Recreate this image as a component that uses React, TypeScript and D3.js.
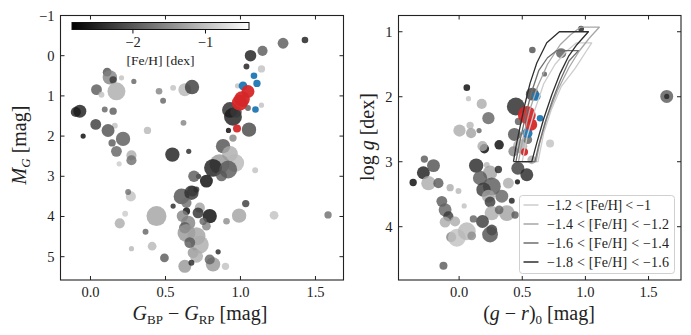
import React from 'react';
import * as d3 from 'd3';

// ---- left panel: Gaia CMD (BP-RP, M_G, [Fe/H], marker size) ----
const cmdBpRp = [1.284, 1.43, 1.147, 1.067, 1.04, 1.14, 0.98, 1.14, 0.93, 0.95, 0.97, 1.05, 1.057, 0.92, 0.95, 0.884, 0.93, 0.965, 0.86, 0.817, 0.918, 0.874, 0.773, 0.72, 0.69, 1.098, 0.546, 0.655, 0.68, 0.607, 0.673, 0.706, 0.551, 0.64, 0.64, 0.729, 0.795, 0.717, 0.773, 0.651, 0.613, 0.751, 0.629, 0.64, 0.707, 0.729, 0.662, 0.684, 0.707, 0.629, 0.673, 0.817, 0.795, 0.851, 0.9, 0.907, 0.991, 1.035, 1.224, 1.584, 0.493, 0.411, 0.44, 0.367, 0.269, 0.251, 0.195, 0.231, 0.273, 0.38, 0.62, 0.629, 0.677, 0.551, 0.457, 0.484, 0.111, 0.129, 0.151, 0.207, 0.289, 0.04, 0.173, 0.073, -0.071, -0.098, 0.095, 0.151, 0.035, 0.162, 0.117, 0.217, 0.144, 0.173, -0.049, 0.273, 0.273, 0.191];
const cmdMg = [-0.31, -0.39, -0.12, 0.0, 0.27, 0.33, 0.75, 1.23, 1.35, 1.52, 1.4, 1.3, 1.84, 1.86, 2.05, 2.25, 2.44, 2.67, 2.7, 2.79, 2.83, 2.99, 3.12, 3.0, 3.0, 2.85, 2.46, 2.38, 3.37, 3.5, 3.41, 3.33, 3.74, 3.66, 3.87, 3.78, 3.99, 3.91, 4.24, 4.16, 3.99, 4.12, 4.28, 4.41, 4.49, 4.7, 4.65, 4.9, 4.99, 5.24, 5.15, 5.19, 5.07, 4.88, 5.24, 4.12, 3.98, 3.68, 3.97, 3.96, 5.03, 4.74, 3.99, 4.38, 3.5, 3.39, 4.17, 3.93, 4.8, 1.86, 1.67, 0.845, 0.78, 0.8, 0.886, 1.12, 0.41, 0.54, 0.6, 0.55, 0.64, 0.845, 0.886, 0.97, 1.38, 1.4, 1.34, 1.38, 1.71, 1.74, 1.86, 2.07, 2.17, 2.38, 2.0, 2.48, 2.6, 2.69];
const cmdFeh = [-2.0, -2.6, -2.0, -2.6, -2.6, -1.0, -1.0, -1.0, -2.5, -2.6, -2.3, -2.0, -2.2, -2.8, -1.6, -2.1, -1.2, -1.1, -1.4, -2.6, -2.0, -2.0, -2.8, -2.5, -2.0, -1.0, -2.6, -2.5, -2.0, -2.1, -2.4, -2.4, -2.5, -1.8, -2.8, -1.3, -2.8, -2.4, -1.6, -1.6, -1.6, -1.9, -2.0, -1.4, -1.3, -1.2, -2.0, -1.4, -1.2, -1.4, -2.5, -1.4, -1.9, -2.5, -1.0, -1.5, -1.3, -2.3, -1.0, -1.8, -2.0, -1.1, -1.3, -1.9, -1.0, -1.8, -1.2, -0.9, -1.1, -1.1, -1.6, -1.1, -2.3, -1.0, -1.6, -1.9, -2.1, -1.6, -2.3, -1.0, -1.9, -2.0, -1.2, -1.0, -2.6, -2.6, -1.9, -2.0, -2.3, -1.0, -2.1, -2.0, -2.0, -1.9, -2.8, -1.2, -1.8, -0.9];
const cmdSize = [15, 9, 14, 16, 8, 10, 7, 7, 22, 25, 16, 8, 20, 7, 10, 20, 22, 25, 28, 25, 25, 15, 18, 7, 16, 8, 20, 7, 15, 22, 20, 8, 7, 14, 10, 14, 20, 15, 12, 20, 16, 10, 16, 25, 25, 25, 15, 15, 18, 18, 8, 20, 14, 7, 10, 9, 20, 10, 12, 10, 12, 12, 28, 8, 14, 8, 14, 8, 7, 10, 8, 18, 20, 8, 9, 8, 12, 20, 10, 7, 7, 15, 25, 8, 18, 14, 8, 10, 15, 8, 18, 20, 10, 15, 7, 14, 14, 7];

// highlighted members in the CMD
const cmdBlueBpRp = [1.09, 1.11, 1.017, 1.1];
const cmdBlueMg = [0.5, 0.69, 0.75, 1.34];
const cmdBlueSize = [9, 10, 12, 9];
const cmdRedBpRp = [1.05, 1.01, 0.995, 0.977];
const cmdRedMg = [0.89, 1.08, 1.17, 1.81];
const cmdRedSize = [18, 22, 22, 11];

// ---- right panel: (g-r)_0 vs log g ----
const kielGr = [1.644, 1.644, 0.966, 0.808, 0.58, 0.676, 0.58, 0.449, 0.438, 0.483, 0.43, 0.72, 0.575, 0.465, 0.536, 0.462, 0.47, 0.544, 0.061, 0.074, 0.179, 0.232, 0.087, 0.003, 0.095, 0.158, 0.2, 0.185, 0.317, 0.135, 0.219, 0.245, 0.311, 0.166, 0.259, 0.193, 0.39, 0.338, 0.232, 0.245, 0.259, 0.378, 0.317, 0.185, 0.259, 0.245, 0.417, 0.443, -0.275, -0.283, -0.364, -0.203, -0.243, -0.164, -0.071, -0.005, -0.137, -0.111, -0.085, -0.111, -0.032, -0.063, -0.018, 0.061, 0.1, -0.124, 0.04, 0.113, 1.045];
const kielLogg = [1.995, 1.995, 0.954, 1.33, 1.28, 1.65, 1.96, 2.15, 2.58, 2.76, 2.84, 2.72, 2.97, 3.1, 3.2, 3.31, 2.38, 2.66, 1.86, 2.03, 2.11, 2.33, 2.44, 2.52, 2.56, 2.52, 2.8, 2.76, 2.74, 3.06, 3.05, 3.17, 3.12, 3.25, 3.38, 3.43, 3.33, 3.53, 3.53, 3.62, 3.79, 3.79, 3.74, 3.92, 4.05, 4.12, 3.6, 3.82, 2.96, 3.17, 3.32, 3.06, 3.33, 3.33, 3.4, 3.45, 3.61, 3.74, 3.84, 3.93, 3.92, 4.16, 4.17, 4.07, 4.14, 4.6, 3.68, 3.88, 3.95];
const kielFeh = [-2.0, -2.5, -2.6, -2.0, -2.1, -2.0, -2.3, -2.5, -2.1, -1.2, -1.6, -1.0, -1.2, -2.3, -2.5, -2.8, -2.0, -1.9, -2.8, -1.0, -1.2, -1.9, -1.1, -1.2, -1.3, -1.9, -2.8, -1.2, -2.8, -2.5, -1.1, -1.3, -2.5, -2.0, -2.0, -2.3, -1.2, -1.9, -1.3, -2.3, -1.2, -1.3, -1.9, -2.3, -2.3, -2.1, -2.6, -2.0, -2.0, -2.6, -2.8, -2.1, -1.2, -2.0, -1.2, -1.1, -2.0, -1.9, -2.3, -1.2, -1.2, -1.6, -1.0, -1.1, -1.5, -2.0, -1.0, -1.9, -1.0];
const kielSize = [18, 7, 8, 14, 9, 7, 18, 25, 18, 20, 14, 11, 12, 18, 18, 7, 10, 12, 9, 7, 14, 17, 10, 17, 14, 7, 13, 14, 13, 20, 8, 20, 10, 20, 25, 20, 15, 18, 18, 15, 20, 22, 12, 18, 15, 22, 8, 10, 10, 18, 10, 18, 20, 14, 10, 8, 15, 18, 14, 15, 14, 14, 25, 25, 12, 11, 7, 10, 12];

const kielBlueGr = [0.61, 0.641, 0.541];
const kielBlueLogg = [1.995, 2.33, 2.56];
const kielBlueSize = [12, 9, 14];
const kielRedGr = [0.536, 0.57, 0.517];
const kielRedLogg = [2.28, 2.43, 2.85];
const kielRedSize = [25, 17, 10];

// isochrone selection boxes, one per metallicity bin: [(g-r)_0, log g]
const isoLabels = ['−1.2 < [Fe/H] < −1', '−1.4 < [Fe/H] < −1.2', '−1.6 < [Fe/H] < −1.4', '−1.8 < [Fe/H] < −1.6'];
const isoColors = ['#cccccc', '#a6a6a6', '#6e6e6e', '#2e2e2e'];
const isoBoxes: [number, number][][] = [
  [[0.5, 3.0], [0.54, 2.6], [0.6, 2.2], [0.67, 1.8], [0.76, 1.5], [0.85, 1.3], [0.93, 1.17], [1.05, 1.17], [0.99, 1.35], [0.92, 1.56], [0.81, 1.84], [0.73, 2.2], [0.67, 2.56], [0.625, 3.0]],
  [[0.47, 3.0], [0.51, 2.6], [0.56, 2.2], [0.62, 1.85], [0.7, 1.5], [0.8, 1.2], [0.88, 1.05], [0.96, 0.93], [1.11, 0.93], [1.03, 1.1], [0.95, 1.3], [0.87, 1.55], [0.78, 1.9], [0.7, 2.3], [0.64, 2.7], [0.61, 3.0]],
  [[0.45, 3.0], [0.48, 2.7], [0.52, 2.35], [0.57, 1.95], [0.63, 1.6], [0.7, 1.4], [0.773, 1.29], [0.945, 1.29], [0.87, 1.45], [0.8, 1.75], [0.74, 2.05], [0.68, 2.4], [0.63, 2.75], [0.6, 3.0]],
  [[0.43, 3.0], [0.451, 2.76], [0.483, 2.46], [0.523, 2.1], [0.562, 1.79], [0.615, 1.48], [0.694, 1.17], [0.794, 1.0], [1.024, 1.0], [0.932, 1.2], [0.866, 1.38], [0.8, 1.64], [0.734, 1.97], [0.668, 2.35], [0.615, 2.71], [0.575, 3.0]],
];

const colorTicks = [0, 0.5, 1.0, 1.5];
const mgTicks = [-1, 0, 1, 2, 3, 4, 5];
const loggTicks = [1, 2, 3, 4];
const fehTicks = [-2, -1];

const FONT = '"Liberation Serif", "DejaVu Serif", serif';
const RED = '#d62728';
const BLUE = '#1f77b4';
const fmt = (v: number, d: number) => v.toFixed(d).replace('-', '−');

const fehScale = d3.scaleLinear().domain([-2.84, -0.4]).range(['#000000', '#ffffff']).clamp(true);
const rScale = d3.scaleLinear().domain([7, 28]).range([2.6, 10]);

function Frame({ x, y, xt, yt, xd, yd }: any) {
  const [x0, x1] = x.range();
  const [y0, y1] = y.range();
  const tl = 4;
  return (
    <g stroke="#222" fill="none">
      {xt.map((t: number) => (
        <g key={'x' + t}>
          <line x1={x(t)} x2={x(t)} y1={y1} y2={y1 - tl} />
          <line x1={x(t)} x2={x(t)} y1={y0} y2={y0 + tl} />
          <text x={x(t)} y={y1 + 17} textAnchor="middle" stroke="none" fill="#222" fontSize={14.5} fontFamily={FONT}>{fmt(t, xd)}</text>
        </g>
      ))}
      {yt.map((t: number) => (
        <g key={'y' + t}>
          <line x1={x0} x2={x0 + tl} y1={y(t)} y2={y(t)} />
          <line x1={x1} x2={x1 - tl} y1={y(t)} y2={y(t)} />
          <text x={x0 - 6} y={y(t) + 5} textAnchor="end" stroke="none" fill="#222" fontSize={14.5} fontFamily={FONT}>{fmt(t, yd)}</text>
        </g>
      ))}
      <rect x={x0} y={y0} width={x1 - x0} height={y1 - y0} strokeWidth={1.1} />
    </g>
  );
}

function Dots({ xs, ys, fs, ss, x, y, color, opacity }: any) {
  return (
    <g>
      {xs.map((v: number, i: number) => (
        <circle key={i} cx={x(v)} cy={y(ys[i])} r={rScale(ss[i])}
          fill={color ? color : fehScale(fs[i])} fillOpacity={opacity} />
      ))}
    </g>
  );
}

export default function App() {
  const xL = d3.scaleLinear().domain([-0.2, 1.687]).range([60.5, 343.5]);
  const yL = d3.scaleLinear().domain([-1, 5.58]).range([15.5, 280]);
  const xR = d3.scaleLinear().domain([-0.48, 1.757]).range([398.5, 681]);
  const yR = d3.scaleLinear().domain([0.75, 4.82]).range([15.5, 280]);
  const cb = d3.scaleLinear().domain([-2.84, -0.4]).range([72, 249]);
  const line = d3.line<[number, number]>().x(d => xR(d[0])).y(d => yR(d[1]));
  const gradStops = d3.range(0, 1.01, 0.1);

  return (
    <svg width={691} height={335} style={{ position: 'absolute', left: 0, top: 0, background: '#fff' }}>
      <defs>
        <linearGradient id="cbar" x1="0" x2="1" y1="0" y2="0">
          {gradStops.map(s => (
            <stop key={s} offset={s} stopColor={fehScale(cb.invert(72 + s * 177)) as string} />
          ))}
        </linearGradient>
        <clipPath id="clipL"><rect x={60.5} y={15.5} width={283} height={264.5} /></clipPath>
        <clipPath id="clipR"><rect x={398.5} y={15.5} width={282.5} height={264.5} /></clipPath>
      </defs>

      {/* left panel */}
      <g clipPath="url(#clipL)">
        <Dots xs={cmdBpRp} ys={cmdMg} fs={cmdFeh} ss={cmdSize} x={xL} y={yL} opacity={0.8} />
        <Dots xs={cmdBlueBpRp} ys={cmdBlueMg} ss={cmdBlueSize} x={xL} y={yL} color={BLUE} opacity={0.95} />
        <Dots xs={cmdRedBpRp} ys={cmdRedMg} ss={cmdRedSize} x={xL} y={yL} color={RED} opacity={0.95} />
      </g>
      <Frame x={xL} y={yL} xt={colorTicks} yt={mgTicks} xd={1} yd={0} />

      {/* colorbar */}
      <rect x={72} y={22.5} width={177} height={7} fill="url(#cbar)" stroke="#111" strokeWidth={1} />
      {fehTicks.map(t => (
        <g key={t}>
          <line x1={cb(t)} x2={cb(t)} y1={29.5} y2={33.5} stroke="#111" />
          <text x={cb(t)} y={47} textAnchor="middle" fontSize={14.5} fontFamily={FONT} fill="#222">{fmt(t, 0)}</text>
        </g>
      ))}
      <text x={160.5} y={65} textAnchor="middle" fontSize={13.5} fontFamily={FONT} fill="#222">[Fe/H] [dex]</text>

      <text x={200} y={320} textAnchor="middle" fontSize={20} fontFamily={FONT} fill="#222">
        <tspan fontStyle="italic">G</tspan><tspan fontSize={13} dy={4}>BP</tspan>
        <tspan dy={-4}> − </tspan><tspan fontStyle="italic">G</tspan><tspan fontSize={13} dy={4}>RP</tspan>
        <tspan dy={-4}> [mag]</tspan>
      </text>
      <text transform="translate(26,145) rotate(-90)" textAnchor="middle" fontSize={20} fontFamily={FONT} fill="#222">
        <tspan fontStyle="italic">M</tspan><tspan fontSize={13} fontStyle="italic" dy={4}>G</tspan>
        <tspan dy={-4}> [mag]</tspan>
      </text>

      {/* right panel */}
      <g clipPath="url(#clipR)">
        <Dots xs={kielGr} ys={kielLogg} fs={kielFeh} ss={kielSize} x={xR} y={yR} opacity={0.8} />
        <Dots xs={kielBlueGr} ys={kielBlueLogg} ss={kielBlueSize} x={xR} y={yR} color={BLUE} opacity={0.95} />
        <Dots xs={kielRedGr} ys={kielRedLogg} ss={kielRedSize} x={xR} y={yR} color={RED} opacity={0.95} />
        {isoBoxes.map((b, i) => (
          <path key={i} d={line([...b, b[0]]) as string} fill="none" stroke={isoColors[i]} strokeWidth={1.3} strokeLinejoin="round" />
        ))}
      </g>
      <Frame x={xR} y={yR} xt={colorTicks} yt={loggTicks} xd={1} yd={0} />

      {/* legend */}
      <rect x={519.5} y={195.5} width={155} height={78} rx={3} fill="#fff" fillOpacity={0.8} stroke="#d0d0d0" />
      {isoLabels.map((l, i) => (
        <g key={l}>
          <line x1={523.5} x2={538.5} y1={205 + i * 19} y2={205 + i * 19} stroke={isoColors[i]} strokeWidth={1.5} />
          <text x={547} y={209.5 + i * 19} fontSize={14} fontFamily={FONT} fill="#222"
            textLength={i === 0 ? 104 : 122} lengthAdjust="spacing">{l}</text>
        </g>
      ))}

      <text x={539} y={320} textAnchor="middle" fontSize={20} fontFamily={FONT} fill="#222">
        (<tspan fontStyle="italic">g</tspan> − <tspan fontStyle="italic">r</tspan>)<tspan fontSize={13} dy={4}>0</tspan>
        <tspan dy={-4}> [mag]</tspan>
      </text>
      <text transform="translate(374,137) rotate(-90)" textAnchor="middle" fontSize={20} fontFamily={FONT} fill="#222">
        log <tspan fontStyle="italic">g</tspan> [dex]
      </text>
    </svg>
  );
}
